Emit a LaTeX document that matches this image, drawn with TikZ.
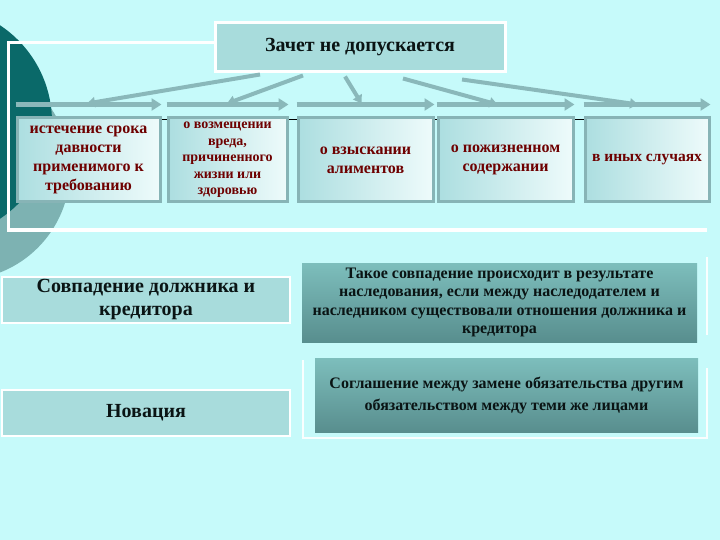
\documentclass[tikz,border=0pt]{standalone}
\usepackage{fontspec}
\setmainfont{Liberation Serif}
\usetikzlibrary{arrows.meta}
\definecolor{bg}{RGB}{198,250,250}
\definecolor{darkteal}{RGB}{10,105,105}
\definecolor{midteal}{RGB}{125,178,178}
\definecolor{arrowc}{RGB}{138,184,186}
\definecolor{titlefill}{RGB}{168,220,220}
\definecolor{sbleft}{RGB}{172,222,224}
\definecolor{sbright}{RGB}{238,251,251}
\definecolor{sbborder}{RGB}{135,180,182}
\definecolor{darkred}{RGB}{110,0,0}
\definecolor{rtop}{RGB}{125,190,188}
\definecolor{rbot}{RGB}{88,142,142}
\definecolor{txt}{RGB}{10,20,20}
\tikzset{
  smallbox/.style={draw=sbborder, line width=3pt, left color=sbleft, right color=sbright,
    shading angle=90, minimum height=84pt, inner sep=1pt, align=center,
    text=darkred, font=\bfseries},
  lightbox/.style={draw=white, line width=2pt, fill=titlefill, inner sep=2pt,
    align=center, text=txt, font=\bfseries},
  darkbox/.style={top color=rtop, bottom color=rbot, inner sep=2pt, align=center,
    text=txt, font=\bfseries},
  harrow/.style={draw=arrowc, line width=5pt, -{Triangle[length=10pt,width=12pt]}},
  darrow/.style={draw=arrowc, line width=4pt, -{Triangle[length=8pt,width=10pt]}},
  wline/.style={draw=white, line width=2pt, opacity=0.9}
}
\begin{document}
\begin{tikzpicture}[x=1pt,y=-1pt]
\useasboundingbox (0,0) rectangle (720,540);
\clip (0,0) rectangle (720,540);
\fill[bg] (0,0) rectangle (720,540);
% decorative circles
\fill[midteal] (-40,170) circle[radius=110pt];
\fill[darkteal] (-64,122) circle[radius=116pt];
% white frame
\draw[white, line width=3pt] (215,43) -- (8,43) -- (8,230) -- (707,230);
% thin black line behind boxes
\draw[black, line width=0.8pt] (17,119) -- (709,119);
% title
\node[lightbox, line width=3pt, minimum width=290pt, minimum height=49pt, font=\fontsize{20}{23}\selectfont\bfseries]
  (title) at (360,47.5) {Зачет не допускается};
% five boxes
\node[smallbox, minimum width=143pt, font=\fontsize{16}{19}\selectfont\bfseries] (b1) at (88.5,160)
  {истечение срока\\давности\\применимого к\\требованию};
\node[smallbox, minimum width=119pt, font=\fontsize{14}{16.5}\selectfont\bfseries] (b2) at (227.5,160)
  {о возмещении\\вреда,\\причиненного\\жизни или\\здоровью};
\node[smallbox, minimum width=135pt, font=\fontsize{16}{19}\selectfont\bfseries] (b3) at (365.5,160)
  {о взыскании\\алиментов};
\node[smallbox, minimum width=135pt, font=\fontsize{16}{19}\selectfont\bfseries] (b4) at (505.5,160)
  {о пожизненном\\содержании};
\node[smallbox, minimum width=124pt, font=\fontsize{15.5}{19}\selectfont\bfseries] (b5) at (647,160)
  {в иных случаях};
% horizontal arrows
\foreach \b in {b1,b2,b3,b4,b5}{
  \draw[harrow] ([yshift=12pt]\b.north west) -- ([yshift=12pt]\b.north east);
}
% diagonal arrows
\draw[darrow] ([xshift=-100pt,yshift=-1pt]title.south) -- ([xshift=-1.5pt,yshift=13pt]b1.north);
\draw[darrow] ([xshift=-57pt,yshift=-2pt]title.south) -- ([xshift=-0.5pt,yshift=13pt]b2.north);
\draw[darrow] ([xshift=-15pt,yshift=-3pt]title.south) -- ([xshift=-4pt,yshift=13pt]b3.north);
\draw[darrow] ([xshift=43pt,yshift=-5pt]title.south) -- ([xshift=-8pt,yshift=12pt]b4.north);
\draw[darrow] ([xshift=102pt,yshift=-6pt]title.south) -- ([xshift=-9pt,yshift=12pt]b5.north);
% lower left boxes
\node[lightbox, minimum width=288pt, minimum height=46pt, font=\fontsize{20}{23}\selectfont\bfseries]
  (coinc) at (146,300) {Совпадение должника и\\кредитора};
\node[lightbox, minimum width=288pt, minimum height=46pt, font=\fontsize{20}{23}\selectfont\bfseries]
  (nov) at (146,413) {Новация};
% white frames of right boxes
\draw[wline] (707,257) -- (707,335);
\draw[wline] (303,360) -- (303,438) -- (707,438) -- (707,368);
% right boxes
\node[darkbox, minimum width=395pt, minimum height=79pt, font=\fontsize{16}{18.5}\selectfont\bfseries]
  (inh) at (499.5,302.5)
  {Такое совпадение происходит в результате\\наследования, если между наследодателем и\\наследником существовали отношения должника и\\кредитора};
\node[darkbox, minimum width=383pt, minimum height=74pt, font=\fontsize{16}{22}\selectfont\bfseries]
  (agr) at (506.5,395)
  {Соглашение между замене обязательства другим\\обязательством между теми же лицами};
\end{tikzpicture}
\end{document}
